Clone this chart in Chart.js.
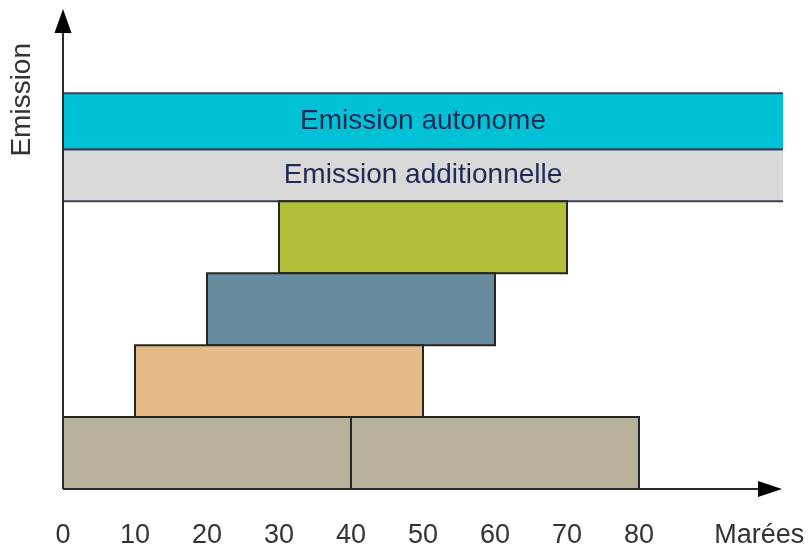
<!DOCTYPE html>
<html lang="fr">
<head>
<meta charset="utf-8">
<title>Emission / Marées</title>
<script src="https://cdn.jsdelivr.net/npm/chart.js@4.4.1/dist/chart.umd.min.js"></script>
<style>
    html, body { margin: 0; padding: 0; background: #fff; }
    #wrap { width: 812px; height: 550px; }
</style>
</head>
<body>
<div id="wrap"><canvas id="emissionChart"></canvas></div>
<script>
// Blocks along the tides axis (bottom row first)
const blockStarts = [0, 40, 10, 20, 30];
const blockEnds = [40, 80, 50, 60, 70];
const blockBottoms = [0, 0, 10, 20, 30];
const blockTops = [10, 10, 20, 30, 40];
const blockColors = ['#b8b19b', '#b8b19b', '#e5ba86', '#688ba0', '#b0be38'];

// Full width bands on top
const bandNames = ['Emission additionnelle', 'Emission autonome'];
const bandStarts = [0, 0];
const bandEnds = [100, 100];
const bandBottoms = [40, 47.2];
const bandTops = [47.2, 55];
const bandColors = ['#d9d9d9', '#00c1d5'];

// Axes
const tickValues = [0, 10, 20, 30, 40, 50, 60, 70, 80];
const xTitle = 'Marées';
const xTitleValue = 96.7;
const yTitle = 'Emission';
const xMax = 100;
const yMax = 62;

document.addEventListener('DOMContentLoaded', () => {
    const ctx = document.getElementById('emissionChart').getContext('2d');

    const datasets = [];

    // closed rectangle for each block
    blockStarts.forEach((x0, i) => {
        const x1 = blockEnds[i];
        const y0 = blockBottoms[i];
        const y1 = blockTops[i];
        datasets.push({
            data: [
                { x: x0, y: y0 }, { x: x1, y: y0 }, { x: x1, y: y1 },
                { x: x0, y: y1 }, { x: x0, y: y0 }
            ],
            backgroundColor: blockColors[i],
            borderColor: '#262626',
            borderWidth: 2,
            fill: 'shape'
        });
    });

    // bands: open path so the right end has no border
    bandStarts.forEach((x0, i) => {
        const x1 = bandEnds[i];
        const y0 = bandBottoms[i];
        const y1 = bandTops[i];
        datasets.push({
            data: [
                { x: x1, y: y0 }, { x: x0, y: y0 }, { x: x0, y: y1 }, { x: x1, y: y1 }
            ],
            backgroundColor: bandColors[i],
            borderColor: '#3a4255',
            borderWidth: 2,
            fill: 'shape'
        });
    });

    // Band captions and axis arrows
    const decorPlugin = {
        id: 'decor',
        afterDatasetsDraw(chart) {
            const { ctx, scales: { x, y } } = chart;
            ctx.save();
            ctx.fillStyle = '#1f2a55';
            ctx.font = '28px "Liberation Sans", Arial, sans-serif';
            ctx.textAlign = 'center';
            ctx.textBaseline = 'middle';
            bandNames.forEach((name, i) => {
                const cx = x.getPixelForValue((bandStarts[i] + bandEnds[i]) / 2);
                const cy = y.getPixelForValue((bandBottoms[i] + bandTops[i]) / 2);
                ctx.fillText(name, cx, cy);
            });
            ctx.restore();
        },
        afterDraw(chart) {
            const { ctx, chartArea: a } = chart;
            ctx.save();
            ctx.strokeStyle = '#2b2b2b';
            ctx.fillStyle = '#000';
            ctx.lineWidth = 2;

            // y axis
            ctx.beginPath();
            ctx.moveTo(a.left, a.bottom);
            ctx.lineTo(a.left, 30);
            ctx.stroke();
            ctx.beginPath();
            ctx.moveTo(a.left, 9);
            ctx.lineTo(a.left - 8.5, 33);
            ctx.lineTo(a.left + 8.5, 33);
            ctx.closePath();
            ctx.fill();

            // x axis
            ctx.beginPath();
            ctx.moveTo(a.left, a.bottom);
            ctx.lineTo(a.right - 20, a.bottom);
            ctx.stroke();
            ctx.beginPath();
            ctx.moveTo(a.right - 1, a.bottom);
            ctx.lineTo(a.right - 25, a.bottom - 8);
            ctx.lineTo(a.right - 25, a.bottom + 8);
            ctx.closePath();
            ctx.fill();
            ctx.restore();
        }
    };

    new Chart(ctx, {
        type: 'scatter',
        data: { datasets: datasets },
        options: {
            responsive: true,
            maintainAspectRatio: false,
            animation: false,
            showLine: true,
            layout: { padding: { left: 5.4, right: 29, top: 43, bottom: -32 } },
            elements: {
                point: { radius: 0, hoverRadius: 0 },
                line: { tension: 0, borderJoinStyle: 'miter', borderCapStyle: 'square' }
            },
            plugins: {
                legend: { display: false },
                tooltip: { enabled: false }
            },
            scales: {
                x: {
                    type: 'linear',
                    min: 0,
                    max: xMax,
                    grid: { display: false, drawTicks: false },
                    border: { display: false },
                    afterBuildTicks: (scale) => {
                        scale.ticks = tickValues.map(v => ({ value: v }))
                            .concat([{ value: xTitleValue }]);
                    },
                    // let the axis name run into the right margin
                    afterFit: (scale) => { scale.paddingRight = 0; },
                    ticks: {
                        autoSkip: false,
                        maxRotation: 0,
                        padding: 33,
                        color: '#333',
                        font: { family: '"Liberation Sans", Arial, sans-serif', size: 27, lineHeight: 1 },
                        callback: (value) => value === xTitleValue ? xTitle : value
                    }
                },
                y: {
                    type: 'linear',
                    min: 0,
                    max: yMax,
                    grid: { display: false, drawTicks: false },
                    border: { display: false },
                    ticks: { display: false },
                    title: {
                        display: true,
                        text: yTitle,
                        align: 'end',
                        color: '#333',
                        padding: { top: 0, bottom: 24 },
                        font: { family: '"Liberation Sans", Arial, sans-serif', size: 28 }
                    }
                }
            }
        },
        plugins: [decorPlugin]
    });
});
</script>
</body>
</html>
